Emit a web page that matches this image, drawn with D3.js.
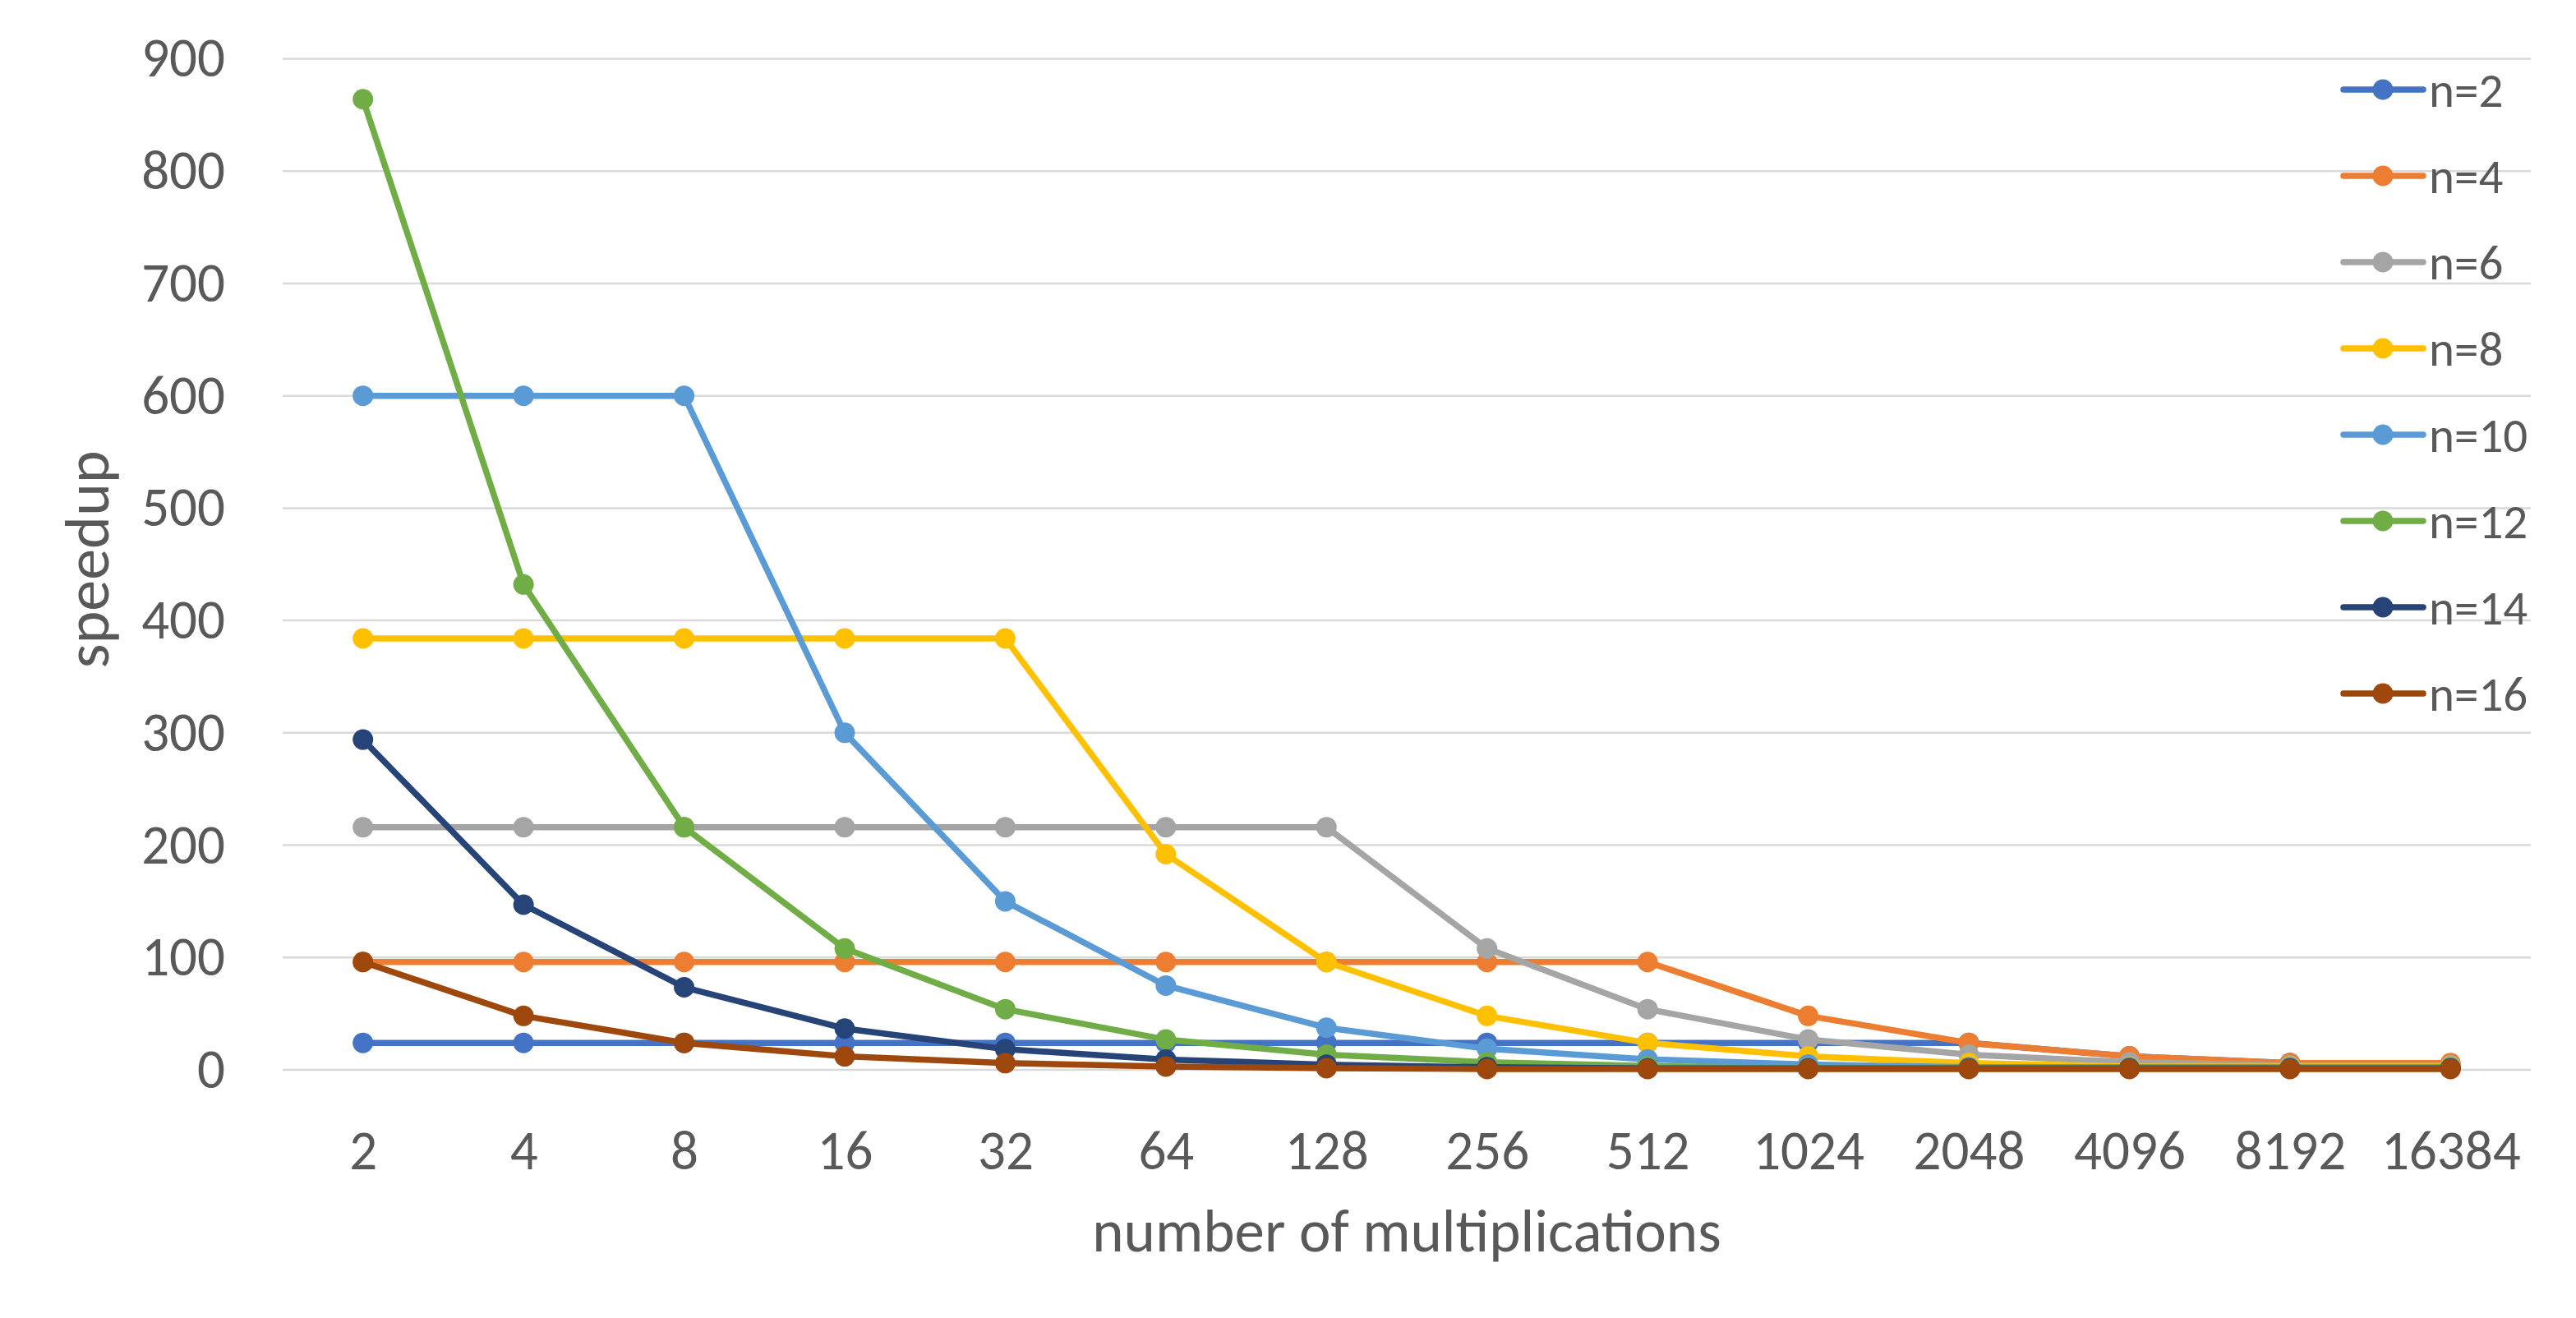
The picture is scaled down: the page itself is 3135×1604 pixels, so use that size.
<!DOCTYPE html>
<html>
<head>
<meta charset="utf-8">
<script src="https://cdn.jsdelivr.net/npm/d3@7"></script>
<style>
  html, body { margin: 0; padding: 0; background: #fff; }
  text { font-family: Carlito, Calibri, Lato, sans-serif; fill: #595959; }
</style>
</head>
<body>
<svg id="chart"></svg>
<script>
// x categories: number of multiplications
const categories = ['2', '4', '8', '16', '32', '64', '128', '256', '512', '1024', '2048', '4096', '8192', '16384'];
const seriesNames = ['n=2', 'n=4', 'n=6', 'n=8', 'n=10', 'n=12', 'n=14', 'n=16'];

// speedup values
const n2 = [24, 24, 24, 24, 24, 24, 24, 24, 24, 24, 24, 12, 6, 3];
const n4 = [96, 96, 96, 96, 96, 96, 96, 96, 96, 48, 24, 12, 6, 6];
const n6 = [216, 216, 216, 216, 216, 216, 216, 108, 54, 27, 13.5, 6.75, 4, 4];
const n8 = [384, 384, 384, 384, 384, 192, 96, 48, 24, 12, 6, 3, 3, 3];
const n10 = [600, 600, 600, 300, 150, 75, 37.5, 18.75, 9.4, 4.7, 2.3, 2.3, 2.3, 2.3];
const n12 = [864, 432, 216, 108, 54, 27, 13.5, 6.75, 3.4, 1.7, 1.7, 1.7, 1.7, 1.7];
const n14 = [294, 147, 73.5, 36.75, 18.4, 9.2, 4.6, 2.3, 1.2, 1.2, 1.2, 1.2, 1.2, 1.2];
const n16 = [96, 48, 24, 12, 6, 3, 1.5, 0.8, 0.8, 0.8, 0.8, 0.8, 0.8, 0.8];

const yTicks = [0, 100, 200, 300, 400, 500, 600, 700, 800, 900];
const colors = ['#4472C4', '#ED7D31', '#A5A5A5', '#FFC000', '#5B9BD5', '#70AD47', '#264478', '#9E480E'];

const series = [n2, n4, n6, n8, n10, n12, n14, n16].map((values, i) => ({
    name: seriesNames[i],
    color: colors[i],
    values: values.map((v, j) => ({ cat: categories[j], value: v }))
}));

const W = 3135;
const H = 1604;
const plot = { left: 344, right: 3080, top: 71.5, bottom: 1302 };

const svg = d3.select('#chart').attr('width', W).attr('height', H);

const x = d3.scalePoint().domain(categories).range([plot.left, plot.right]).padding(0.5);
const y = d3.scaleLinear().domain([0, 900]).range([plot.bottom, plot.top]);

// gridlines
svg.append('g')
    .selectAll('line')
    .data(yTicks)
    .join('line')
    .attr('x1', plot.left)
    .attr('x2', plot.right)
    .attr('y1', (d) => y(d))
    .attr('y2', (d) => y(d))
    .attr('stroke', '#D9D9D9')
    .attr('stroke-width', 2.5);

// y axis labels
const yAxis = svg.append('g')
    .attr('transform', `translate(${plot.left},0)`)
    .call(d3.axisLeft(y).tickValues(yTicks).tickSize(0).tickPadding(70));
yAxis.select('.domain').remove();
yAxis.selectAll('text').style('font-size', '67px').attr('fill', '#595959');

// x axis labels
const xAxis = svg.append('g')
    .attr('transform', `translate(0,${plot.bottom})`)
    .call(d3.axisBottom(x).tickSize(0).tickPadding(73));
xAxis.select('.domain').remove();
xAxis.selectAll('text').style('font-size', '67px').attr('fill', '#595959');

// lines + markers, later series on top
const line = d3.line().x((d) => x(d.cat)).y((d) => y(d.value));

const seriesG = svg.append('g')
    .selectAll('g')
    .data(series)
    .join('g');

seriesG.append('path')
    .attr('d', (d) => line(d.values))
    .attr('fill', 'none')
    .attr('stroke', (d) => d.color)
    .attr('stroke-width', 7.5)
    .attr('stroke-linejoin', 'round')
    .attr('stroke-linecap', 'round');

seriesG.selectAll('circle')
    .data((d) => d.values.map((v) => ({ ...v, color: d.color })))
    .join('circle')
    .attr('cx', (d) => x(d.cat))
    .attr('cy', (d) => y(d.value))
    .attr('r', 12.5)
    .attr('fill', (d) => d.color);

// axis titles
svg.append('text')
    .attr('x', 1712)
    .attr('y', 1523)
    .attr('text-anchor', 'middle')
    .style('font-size', '73px')
    .text('number of multiplications');

svg.append('text')
    .attr('transform', `translate(132,${(plot.top + plot.bottom) / 2 - 6}) rotate(-90)`)
    .attr('text-anchor', 'middle')
    .style('font-size', '76px')
    .text('speedup');

// legend (overlays the plot, right side)
const legend = svg.append('g')
    .selectAll('g')
    .data(series)
    .join('g')
    .attr('transform', (d, i) => `translate(2852,${109 + i * 105})`);

legend.append('line')
    .attr('x1', 0)
    .attr('x2', 97)
    .attr('stroke', (d) => d.color)
    .attr('stroke-width', 7.5)
    .attr('stroke-linecap', 'round');

legend.append('circle')
    .attr('cx', 48)
    .attr('r', 12.5)
    .attr('fill', (d) => d.color);

legend.append('text')
    .attr('x', 104)
    .attr('dy', '0.35em')
    .style('font-size', '59px')
    .text((d) => d.name);
</script>
</body>
</html>
